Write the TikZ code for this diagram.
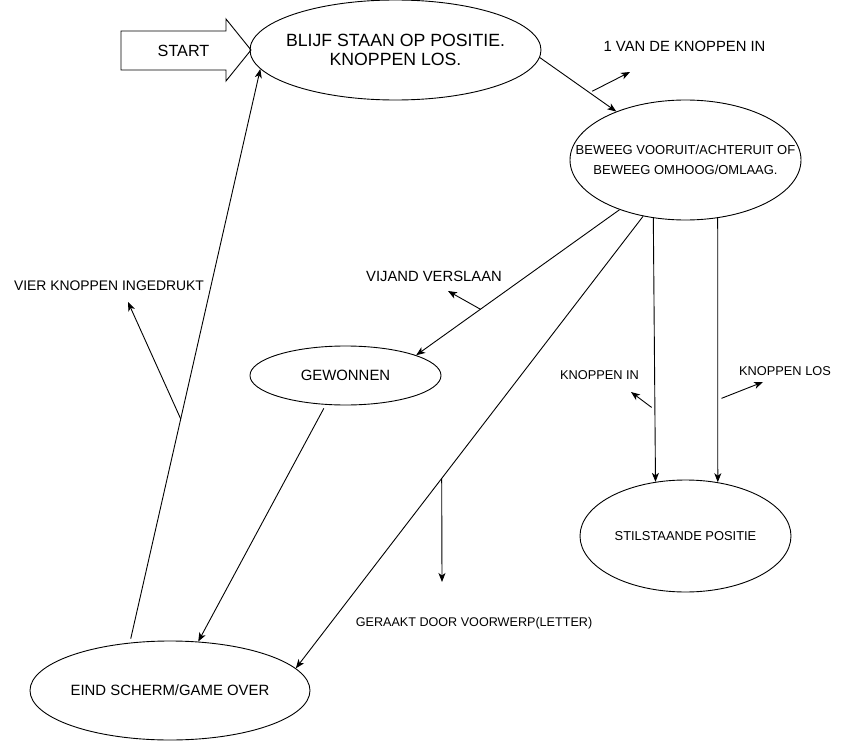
\documentclass[tikz,border=0pt]{standalone}
\usepackage{fontspec}
\setmainfont{Liberation Sans}
\usetikzlibrary{arrows.meta,shapes.geometric}

\tikzset{
state/.style={draw,ellipse,line width=0.9pt,inner xsep=-30pt,inner ysep=0pt,align=center},
tekst/.style={inner sep=0pt,align=center},
pijl/.style={line width=0.9pt,-{Stealth[length=9pt,width=7pt,inset=2.5pt]}}
}

\begin{document}
\begin{tikzpicture}[x=1pt,y=-1pt]
\useasboundingbox (0,0) rectangle (841,741);

\node[state,minimum width=291pt,minimum height=100pt,font=\fontsize{17.7}{19}\selectfont] (blijf) at (395.5,50) {BLIJF STAAN OP POSITIE.\\KNOPPEN LOS.};
\node[state,minimum width=231pt,minimum height=120pt,font=\fontsize{13}{20}\selectfont] (beweeg) at (685.5,160) {BEWEEG VOORUIT/ACHTERUIT OF\\BEWEEG OMHOOG/OMLAAG.};
\node[state,minimum width=211pt,minimum height=112pt,font=\fontsize{12.9}{15}\selectfont] (stil) at (685.5,536) {STILSTAANDE POSITIE};
\node[state,minimum width=191pt,minimum height=59pt,font=\fontsize{14.9}{17}\selectfont] (gewonnen) at (345.5,375.5) {GEWONNEN};
\node[state,minimum width=280pt,minimum height=99pt,font=\fontsize{14.9}{17}\selectfont] (eind) at (170,690.5) {EIND SCHERM/GAME OVER};

\draw[line width=0.9pt] (121,31) -- (226,31) -- (226,19) -- (251,50) -- (226,81) -- (226,70) -- (121,70) -- cycle;
\node[tekst,font=\fontsize{16.2}{18}\selectfont] (start) at (183.5,51) {START};

\draw[pijl] (blijf.-3) -- (beweeg.145.4) coordinate[pos=0.65] (h1);
\draw[pijl,shorten <=4pt] (eind.130) -- (blijf.188) coordinate[pos=0.39] (h2);
\draw[pijl] (beweeg.-143) -- (gewonnen.16) coordinate[pos=0.684] (h3);
\draw[pijl] (beweeg.-127.4) -- (eind.10.9) coordinate[pos=0.58] (h4);
\draw[pijl] (beweeg.-119.4) -- (stil.119.6) coordinate[pos=0.727] (h5);
\draw[pijl] (beweeg.-61.4) -- (stil.59.5) coordinate[pos=0.688] (h6);
\draw[pijl,shorten <=4pt] (gewonnen.-124) -- (eind.60);

\coordinate (k1) at (630,72);
\coordinate (k2) at (128,302);
\coordinate (k3) at (448,291);
\coordinate (k4) at (442,582);
\coordinate (k5) at (631,392);
\coordinate (k6) at (763,382);

\foreach \i/\gap in {1/3,2/0,3/0,4/0,5/4,6/4}
{
\draw[pijl,shorten <=\gap pt] (h\i) -- (k\i);
}

\node[tekst,font=\fontsize{14.8}{17}\selectfont] (knopin) at (684.5,46) {1 VAN DE KNOPPEN IN};
\node[tekst,font=\fontsize{13.9}{16}\selectfont] (vier) at (109,286) {VIER KNOPPEN INGEDRUKT};
\node[tekst,font=\fontsize{14.8}{17}\selectfont] (vijand) at (434,276) {VIJAND VERSLAAN};
\node[tekst,font=\fontsize{12.6}{15}\selectfont] (geraakt) at (474,623) {GERAAKT DOOR VOORWERP(LETTER)};
\node[tekst,font=\fontsize{12.8}{15}\selectfont] (in) at (599.5,375) {KNOPPEN IN};
\node[tekst,font=\fontsize{12.8}{15}\selectfont] (los) at (785,371) {KNOPPEN LOS};
\end{tikzpicture}
\end{document}
